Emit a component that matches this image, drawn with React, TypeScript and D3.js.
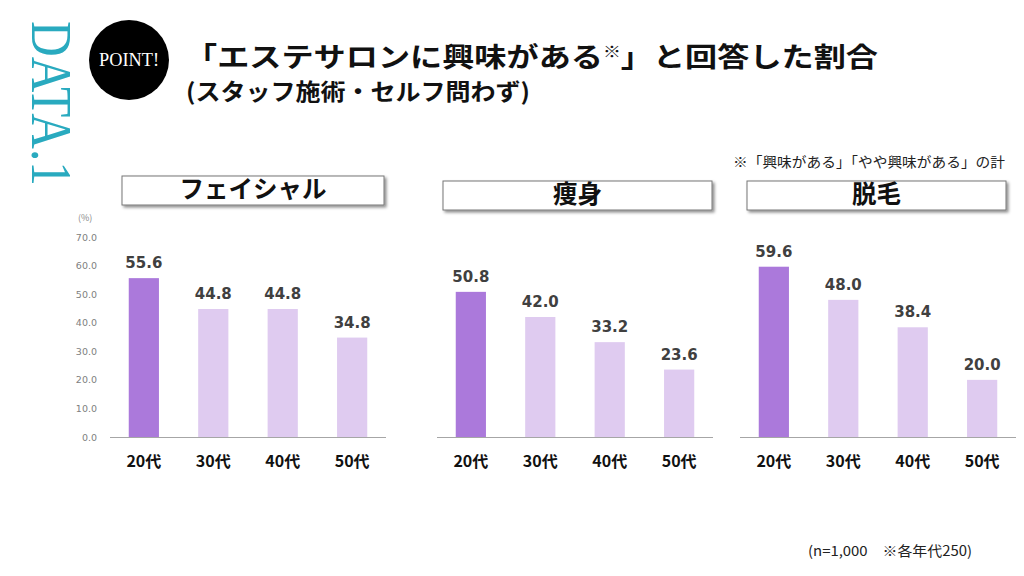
import React from "react";
import * as d3 from "d3";

const categories = ["20代", "30代", "40代", "50代"];
const facialValues = [55.6, 44.8, 44.8, 34.8];
const slimmingValues = [50.8, 42.0, 33.2, 23.6];
const hairRemovalValues = [59.6, 48.0, 38.4, 20.0];
const panelTitles = ["フェイシャル", "痩身", "脱毛"];
const yTicks = [0, 10, 20, 30, 40, 50, 60, 70];

const W = 1024, H = 576;
const FONT = "'Noto Sans CJK JP', 'Noto Sans', sans-serif";

const panels = [
  { title: panelTitles[0], values: facialValues, x0: 110, x1: 386, box: [122, 176, 262, 29], axis: true },
  { title: panelTitles[1], values: slimmingValues, x0: 437, x1: 713, box: [443, 181, 269, 29], axis: false },
  { title: panelTitles[2], values: hairRemovalValues, x0: 740, x1: 1016, box: [747, 181, 259, 29], axis: false },
];

const y = d3.scaleLinear().domain([0, 70]).range([437, 237]);

export default function App() {
  return (
    <svg width={W} height={H} style={{ display: "block", position: "absolute", left: 0, top: 0, background: "#fff" }}>
      <defs>
        <filter id="sh" x="-10%" y="-30%" width="120%" height="160%">
          <feDropShadow dx="2" dy="2" stdDeviation="1.5" floodColor="#000" floodOpacity="0.45" />
        </filter>
      </defs>
      <rect width={W} height={H} fill="#fff" />
      {/* DATA.1 */}
      <text transform="translate(32,21) rotate(90)" fill="#29aabf" fontFamily="'Liberation Serif', serif" fontSize={56}
        textLength={165} lengthAdjust="spacingAndGlyphs">DATA.1</text>
      {/* POINT circle */}
      <circle cx={129} cy={60} r={40} fill="#000" />
      <text x={129} y={66} textAnchor="middle" fill="#fff" fontFamily="'Liberation Serif', serif" fontSize={19} textLength={60} lengthAdjust="spacingAndGlyphs">POINT!</text>
      {/* titles */}
      <text x={185} y={67} fontFamily={FONT} fontWeight="bold" fontSize={27} fill="#111" textLength={693} lengthAdjust="spacingAndGlyphs">「エステサロンに興味がある<tspan fontSize={15} dy={-10}>※</tspan><tspan dy={10}>」と回答した割合</tspan></text>
      <text x={186} y={100} fontFamily={FONT} fontWeight="bold" fontSize={23} fill="#111" textLength={344} lengthAdjust="spacingAndGlyphs">(スタッフ施術・セルフ問わず)</text>
      <text x={733} y={167} fontFamily={FONT} fontSize={14} fill="#222" textLength={272} lengthAdjust="spacingAndGlyphs">※「興味がある」「やや興味がある」の計</text>
      <text x={78} y={221} fontFamily={FONT} fontSize={9} fill="#888">(%)</text>
      {panels.map((p, pi) => {
        const x = d3.scaleBand().domain(categories).range([p.x0, p.x1]).paddingInner(0.565).paddingOuter(0.27);
        const [bx, by, bw, bh] = p.box;
        return (
          <g key={pi}>
            <rect x={bx} y={by} width={bw} height={bh} fill="#fff" stroke="#777" strokeWidth={1} filter="url(#sh)" />
            <text x={bx + bw / 2} y={by + bh / 2 + 1} textAnchor="middle" dominantBaseline="middle" fontFamily={FONT} fontWeight="bold" fontSize={24.5} fill="#111">{p.title}</text>
            {p.axis && yTicks.map((t) => (
              <text key={t} x={97} y={y(t) + 3.5} textAnchor="end" fontFamily="'DejaVu Sans', sans-serif" fontSize={9.5} fill="#808080">{t.toFixed(1)}</text>
            ))}
            {p.values.map((v, i) => (
              <g key={i}>
                <rect x={x(categories[i])} y={y(v)} width={x.bandwidth()} height={y(0) - y(v)} fill={i === 0 ? "#ab79db" : "#dfcbf0"} />
                <text x={(x(categories[i]) as number) + x.bandwidth() / 2} y={y(v) - 10} textAnchor="middle" fontFamily="'DejaVu Sans', sans-serif" fontWeight="bold" fontSize={15} fill="#404040">{v.toFixed(1)}</text>
                <text x={(x(categories[i]) as number) + x.bandwidth() / 2} y={467} textAnchor="middle" fontFamily={FONT} fontWeight="bold" fontSize={16} fill="#111">{categories[i]}</text>
              </g>
            ))}
            <line x1={p.x0} x2={p.x1} y1={y(0) + 0.5} y2={y(0) + 0.5} stroke="#a6a6a6" strokeWidth={1} />
          </g>
        );
      })}
      <text x={808} y={556} fontFamily={FONT} fontSize={14} fill="#222" textLength={164} lengthAdjust="spacingAndGlyphs">(n=1,000　※各年代250)</text>
    </svg>
  );
}
